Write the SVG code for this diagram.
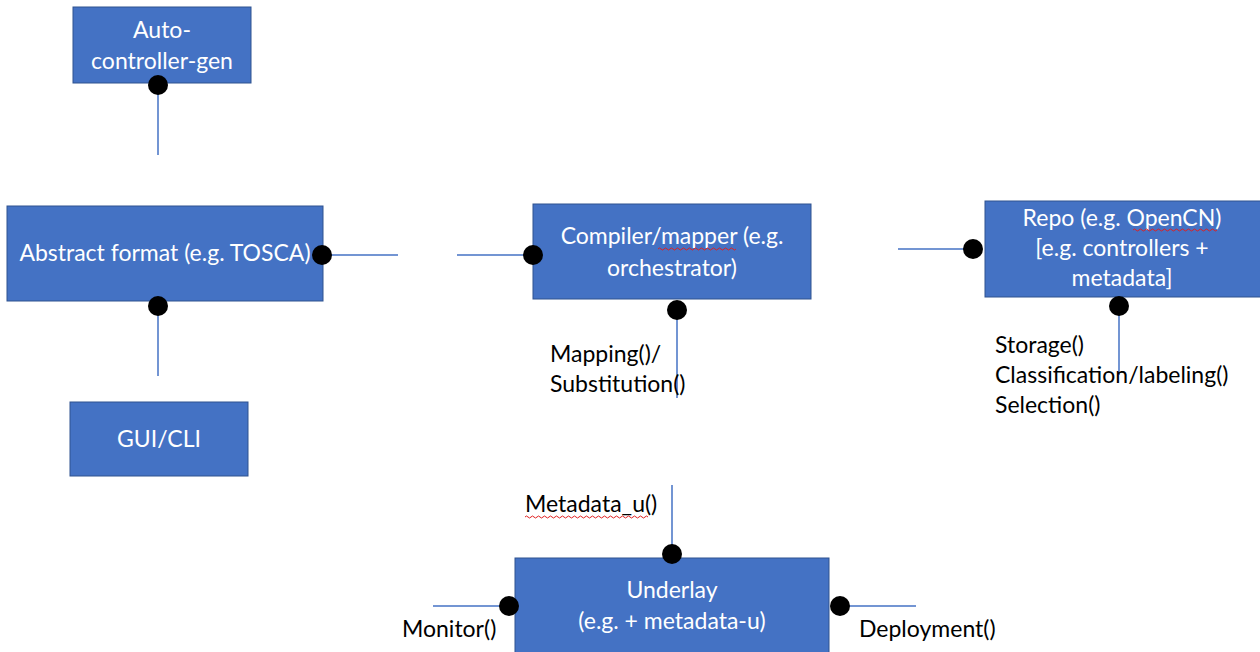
<svg xmlns="http://www.w3.org/2000/svg" width="1260" height="652" viewBox="0 0 1260 652">
<style>
.box{fill:#4472C4;stroke:#2F528F;stroke-width:1}
.bt{font-family:Lato,"Liberation Sans",sans-serif;font-size:23px;fill:#ffffff;text-anchor:middle}
.lt{font-family:Lato,"Liberation Sans",sans-serif;font-size:23px;fill:#000000}
.ln{stroke:#4472C4;stroke-width:1.5;fill:none}
.dot{fill:#000000}
.sq{stroke:#E02020;stroke-width:1;fill:none}
</style>
<rect width="1260" height="652" fill="#ffffff"/>
<g id="connectors">
<line class="ln" x1="158" y1="85" x2="158" y2="155"/>
<line class="ln" x1="322" y1="255" x2="398" y2="255"/>
<line class="ln" x1="158" y1="306" x2="158" y2="376"/>
<line class="ln" x1="457" y1="255" x2="533" y2="255"/>
<line class="ln" x1="677" y1="310" x2="677" y2="398"/>
<line class="ln" x1="898" y1="249" x2="973" y2="249"/>
<line class="ln" x1="1119" y1="306" x2="1119" y2="375"/>
<line class="ln" x1="672" y1="485" x2="672" y2="554"/>
<line class="ln" x1="433" y1="606" x2="509" y2="606"/>
<line class="ln" x1="840" y1="606" x2="916" y2="606"/>
</g>
<g id="auto-controller-gen">
<rect class="box" x="73" y="7" width="178" height="76"/>
<text class="bt" x="162" y="38">Auto-</text>
<text class="bt" x="162" y="69">controller-gen</text>
<circle class="dot" cx="158" cy="85" r="10"/>
</g>
<g id="abstract-format">
<rect class="box" x="7" y="206" width="316" height="95"/>
<text class="bt" x="165" y="261">Abstract format (e.g. TOSCA)</text>
<circle class="dot" cx="322" cy="255" r="10"/>
<circle class="dot" cx="158" cy="306" r="10"/>
</g>
<g id="gui-cli">
<rect class="box" x="70" y="402" width="178" height="74"/>
<text class="bt" x="159" y="447">GUI/CLI</text>
</g>
<g id="compiler">
<rect class="box" x="533" y="204" width="278" height="95"/>
<text class="bt" x="672" y="244">Compiler/mapper (e.g.</text>
<text class="bt" x="672" y="276">orchestrator)</text>
<path class="sq" d="M658 249 q1.5 -2 3 0 t3 0 t3 0 t3 0 t3 0 t3 0 t3 0 t3 0 t3 0 t3 0 t3 0 t3 0 t3 0 t3 0 t3 0 t3 0 t3 0 t3 0 t3 0 t3 0 t3 0 t3 0 t3 0 t3 0 t3 0 t3 0"/>
<circle class="dot" cx="533" cy="255" r="10"/>
<circle class="dot" cx="677" cy="310" r="10"/>
<text class="lt" x="550" y="362">Mapping()/</text>
<text class="lt" x="550" y="392">Substitution()</text>
</g>
<g id="repo">
<rect class="box" x="985" y="201" width="276" height="96"/>
<text class="bt" x="1122" y="226">Repo (e.g. OpenCN)</text>
<text class="bt" x="1122" y="256">[e.g. controllers +</text>
<text class="bt" x="1122" y="286">metadata]</text>
<path class="sq" d="M1133 230 q1.5 -2 3 0 t3 0 t3 0 t3 0 t3 0 t3 0 t3 0 t3 0 t3 0 t3 0 t3 0 t3 0 t3 0 t3 0 t3 0 t3 0 t3 0 t3 0 t3 0 t3 0 t3 0 t3 0 t3 0 t3 0 t3 0 t3 0 t3 0 t3 0"/>
<circle class="dot" cx="973" cy="249" r="10"/>
<circle class="dot" cx="1119" cy="306" r="10"/>
<text class="lt" x="995" y="353">Storage()</text>
<text class="lt" x="995" y="383">Classification/labeling()</text>
<text class="lt" x="995" y="413">Selection()</text>
</g>
<g id="underlay">
<rect class="box" x="515" y="558" width="314" height="100"/>
<text class="bt" x="672" y="598">Underlay</text>
<text class="bt" x="672" y="629">(e.g. + metadata-u)</text>
<circle class="dot" cx="672" cy="554" r="10"/>
<circle class="dot" cx="509" cy="606" r="10"/>
<circle class="dot" cx="840" cy="606" r="10"/>
<text class="lt" x="525" y="512">Metadata_u()</text>
<path class="sq" d="M525 517 q1.5 -2 3 0 t3 0 t3 0 t3 0 t3 0 t3 0 t3 0 t3 0 t3 0 t3 0 t3 0 t3 0 t3 0 t3 0 t3 0 t3 0 t3 0 t3 0 t3 0 t3 0 t3 0 t3 0 t3 0 t3 0 t3 0 t3 0 t3 0 t3 0 t3 0 t3 0 t3 0 t3 0 t3 0 t3 0 t3 0 t3 0 t3 0 t3 0 t3 0 t3 0 t3 0"/>
<text class="lt" x="402" y="637">Monitor()</text>
<text class="lt" x="859" y="637">Deployment()</text>
</g>
</svg>
